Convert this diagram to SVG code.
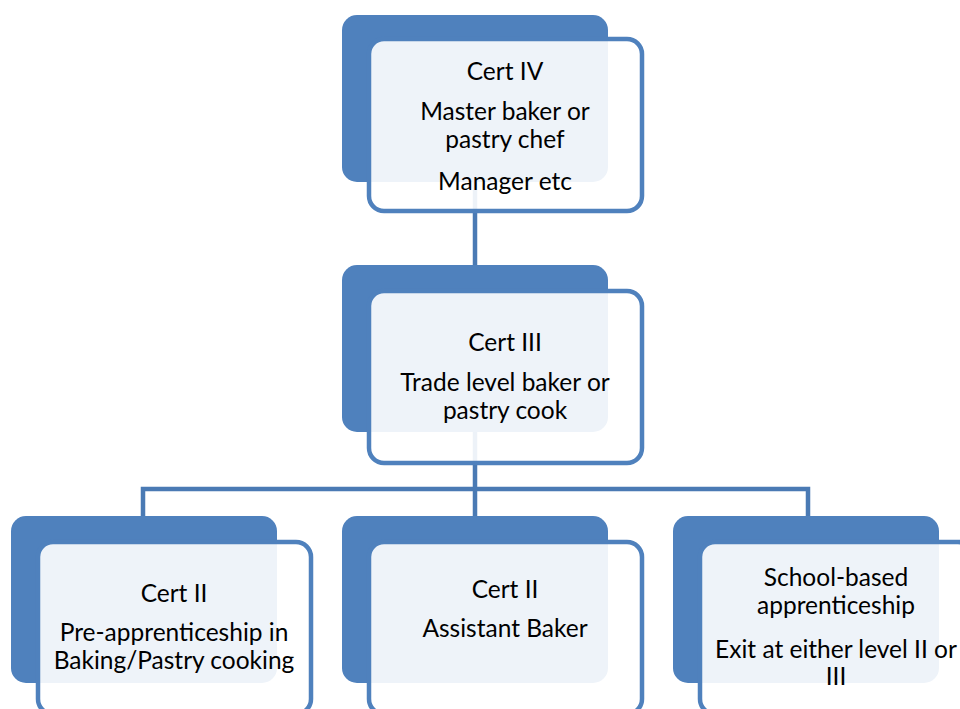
<svg xmlns="http://www.w3.org/2000/svg" width="960" height="709" viewBox="0 0 960 709">
<style>
.back{fill:#4F81BD;}
.front{fill:#FFFFFF;fill-opacity:0.9;stroke:#4F81BD;stroke-width:4.5;}
.conn{fill:none;stroke:#4A7AB4;stroke-width:4.5;}
text{font-family:Lato,"Open Sans",sans-serif;font-size:24.5px;fill:#000;text-anchor:middle;}
</style>
<rect width="960" height="709" fill="#FFFFFF"/>
<g id="connectors">
<path class="conn" d="M475,182 V265"/>
<path class="conn" d="M475,432 V516 M143,516 V489 H808 V516"/>
</g>
<g id="node-cert4">
<rect class="back" x="342" y="15" width="266" height="167" rx="15"/>
<rect class="front" x="369" y="39" width="273" height="172" rx="15"/>
<text x="505" y="80">Cert IV</text>
<text x="505" y="120">Master baker or</text>
<text x="505" y="148">pastry chef</text>
<text x="505" y="190">Manager etc</text>
</g>
<g id="node-cert3">
<rect class="back" x="342" y="265" width="266" height="167" rx="15"/>
<rect class="front" x="369" y="291" width="273" height="172" rx="15"/>
<text x="505" y="351">Cert III</text>
<text x="505" y="391">Trade level baker or</text>
<text x="505" y="419">pastry cook</text>
</g>
<g id="node-cert2-pre">
<rect class="back" x="11" y="516" width="266" height="167" rx="15"/>
<rect class="front" x="38" y="542" width="273" height="172" rx="15"/>
<text x="174" y="602">Cert II</text>
<text x="174" y="641">Pre-apprenticeship in</text>
<text x="174" y="669">Baking/Pastry cooking</text>
</g>
<g id="node-cert2-assistant">
<rect class="back" x="342" y="516" width="266" height="167" rx="15"/>
<rect class="front" x="369" y="542" width="273" height="172" rx="15"/>
<text x="505" y="598">Cert II</text>
<text x="505" y="637">Assistant Baker</text>
</g>
<g id="node-school">
<rect class="back" x="673" y="516" width="266" height="167" rx="15"/>
<rect class="front" x="700" y="542" width="273" height="172" rx="15"/>
<text x="836" y="586">School-based</text>
<text x="836" y="614">apprenticeship</text>
<text x="836" y="658">Exit at either level II or</text>
<text x="836" y="685">III</text>
</g>
</svg>
